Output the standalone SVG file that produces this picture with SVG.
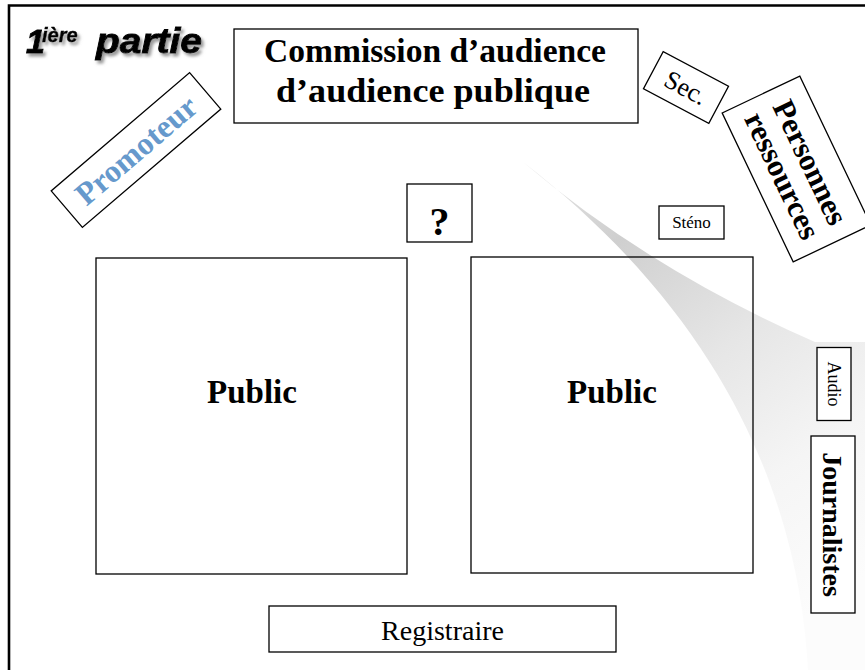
<svg xmlns="http://www.w3.org/2000/svg" width="865" height="670" viewBox="0 0 865 670">
<defs>
  <linearGradient id="wedge" gradientUnits="userSpaceOnUse" x1="523" y1="162" x2="830" y2="600">
    <stop offset="0" stop-color="#e6e6e6"/>
    <stop offset="0.22" stop-color="#cfcfcf"/>
    <stop offset="0.5" stop-color="#e6e6e6"/>
    <stop offset="0.75" stop-color="#f5f5f5"/>
    <stop offset="1" stop-color="#fcfcfc"/>
  </linearGradient>
  <filter id="shadow" x="-10%" y="-20%" width="130%" height="160%">
    <feDropShadow dx="2.5" dy="3" stdDeviation="1.6" flood-color="#808080" flood-opacity="0.8"/>
  </filter>
  <style>
    .box { fill: #ffffff; stroke: #000000; stroke-width: 1.3; }
    .open { fill: none; stroke: #000000; stroke-width: 1.3; }
    .serif { font-family: "Liberation Serif", "Times New Roman", serif; fill: #000000; }
    .b { font-weight: bold; }
    .mid { text-anchor: middle; }
    .title { font-family: "Liberation Sans", Arial, sans-serif; font-weight: bold; font-style: italic; fill: #000000; stroke: #000000; stroke-width: 0.9; }
  </style>
</defs>
<rect width="865" height="670" fill="#ffffff"/>
<path d="M9,670 V5.5 H865" fill="none" stroke="#000000" stroke-width="2.6"/>

<path id="spotlight" d="M523,162 Q650,270 815,342 L865,342 L865,670 L808,670 C800,520 740,330 523,162 Z" fill="url(#wedge)"/>

<g id="titre" filter="url(#shadow)">
  <text class="title" x="26" y="53" font-size="34">1</text>
  <text class="title" x="42" y="42" font-size="20" style="stroke-width:0.5">ière</text>
  <text class="title" x="96" y="53" font-size="35" textLength="106" lengthAdjust="spacingAndGlyphs">partie</text>
</g>

<g id="commission">
  <rect class="box" x="234" y="29" width="404" height="94"/>
  <text class="serif b mid" x="435" y="62" font-size="34" textLength="342" lengthAdjust="spacingAndGlyphs">Commission d’audience</text>
  <text class="serif b mid" x="433" y="102" font-size="34" textLength="314" lengthAdjust="spacingAndGlyphs">d’audience publique</text>
</g>

<g id="promoteur" transform="translate(136,150) rotate(-40.5)">
  <rect class="box" x="-91" y="-24" width="182" height="48"/>
  <text class="serif b mid" x="0" y="11" font-size="32" style="fill:#6699cc">Promoteur</text>
</g>

<g id="sec" transform="translate(686,87.5) rotate(28)">
  <rect class="box" x="-37" y="-21" width="74" height="42"/>
  <text class="serif mid" x="0" y="9" font-size="26">Sec.</text>
</g>

<g id="personnes" transform="translate(796.5,169) rotate(64.5)">
  <rect class="box" x="-82.5" y="-43" width="165" height="86"/>
  <text class="serif b mid" x="0" y="-5" font-size="31">Personnes</text>
  <text class="serif b mid" x="0" y="26" font-size="31">ressources</text>
</g>

<g id="question">
  <rect class="box" x="407" y="184" width="65" height="58"/>
  <text class="serif b mid" x="439.5" y="235" font-size="40">?</text>
</g>

<g id="steno">
  <rect class="box" x="659" y="206" width="65" height="33"/>
  <text class="serif mid" x="691.5" y="228" font-size="17">Sténo</text>
</g>

<g id="public-gauche">
  <rect class="open" x="96" y="258" width="311" height="316"/>
  <text class="serif b mid" x="252" y="403" font-size="33">Public</text>
</g>

<g id="public-droite">
  <rect class="open" x="471" y="257" width="282" height="316"/>
  <text class="serif b mid" x="612" y="403" font-size="33">Public</text>
</g>

<g id="audio" transform="translate(834,384) rotate(90)">
  <rect class="box" x="-36.5" y="-17" width="73" height="34"/>
  <text class="serif mid" x="0" y="6" font-size="18">Audio</text>
</g>

<g id="journalistes" transform="translate(833,524.5) rotate(90)">
  <rect class="box" x="-88.5" y="-22" width="177" height="44"/>
  <text class="serif b mid" x="0" y="10" font-size="28">Journalistes</text>
</g>

<g id="registraire">
  <rect class="box" x="269" y="606" width="347" height="46"/>
  <text class="serif mid" x="442.5" y="640" font-size="28">Registraire</text>
</g>

<g id="connecteurs"></g>
</svg>
